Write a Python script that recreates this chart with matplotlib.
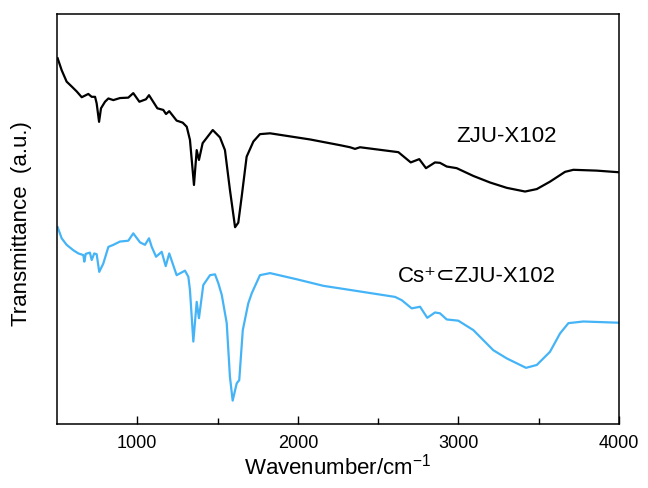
import numpy as np
import matplotlib.pyplot as plt

plt.rcParams['font.family'] = ['Liberation Sans', 'DejaVu Sans']
plt.rcParams['mathtext.fontset'] = 'custom'
plt.rcParams['mathtext.rm'] = 'Liberation Sans'
plt.rcParams['mathtext.it'] = 'Liberation Sans'

# ZJU-X102 (black), wavenumber in cm-1 and transmittance in a.u.
wn_x102 = [504, 529, 560, 592, 623, 654, 695, 716, 737, 747, 762, 774, 799, 820,
           851, 892, 944, 975, 1013, 1054, 1073, 1125, 1162, 1179, 1199, 1245,
           1283, 1308, 1328, 1353, 1370, 1384, 1407, 1470, 1515, 1546, 1577, 1609,
           1629, 1650, 1681, 1723, 1764, 1827, 2076, 2263, 2325, 2356, 2387, 2626,
           2703, 2756, 2798, 2854, 2885, 2927, 2989, 3093, 3197, 3301, 3415, 3488,
           3570, 3664, 3716, 3861, 4000]
t_x102 = [89.2, 86.3, 83.5, 82.3, 81.1, 79.7, 80.5, 79.8, 79.8, 78.2, 73.7, 77.0,
          78.6, 79.4, 79.0, 79.5, 79.6, 80.7, 78.6, 79.2, 80.2, 77.0, 76.6, 75.6,
          76.3, 74.0, 73.5, 72.5, 69.3, 58.3, 66.8, 64.4, 68.5, 71.7, 69.9, 66.8,
          57.1, 48.0, 49.1, 55.4, 65.2, 68.9, 70.7, 70.9, 69.4, 68.0, 67.5, 67.1,
          67.5, 66.3, 63.8, 64.6, 62.4, 63.8, 63.7, 62.8, 62.4, 60.5, 58.9, 57.6,
          56.7, 57.3, 59.1, 61.5, 62.0, 61.8, 61.4]

# Cs+ loaded sample (blue)
wn_cs = [504, 529, 560, 601, 633, 664, 670, 679, 705, 716, 732, 747, 763, 788,
         820, 851, 892, 944, 975, 1017, 1048, 1073, 1090, 1117, 1152, 1177, 1199,
         1245, 1297, 1318, 1328, 1349, 1370, 1384, 1411, 1453, 1484, 1505, 1526,
         1557, 1577, 1594, 1619, 1635, 1657, 1691, 1713, 1764, 1827, 1993, 2159,
         2325, 2605, 2647, 2709, 2761, 2806, 2854, 2885, 2927, 2999, 3093, 3217,
         3301, 3421, 3488, 3570, 3633, 3685, 3778, 4000]
t_cs = [48.0, 45.3, 43.7, 42.4, 41.6, 41.2, 39.6, 41.5, 41.8, 40.0, 41.6, 41.4,
        37.1, 39.1, 43.2, 43.7, 44.5, 44.7, 46.5, 44.3, 43.7, 45.3, 43.2, 40.8,
        42.0, 38.5, 41.6, 36.3, 37.4, 35.9, 32.7, 20.1, 29.8, 25.8, 33.9, 36.3,
        36.5, 34.3, 31.5, 24.6, 11.5, 5.7, 9.9, 10.7, 22.9, 29.4, 31.9, 36.3,
        36.8, 35.3, 33.7, 32.7, 31.0, 30.2, 28.2, 28.6, 25.9, 27.2, 27.0, 25.5,
        25.2, 22.9, 18.0, 16.0, 13.7, 14.4, 17.6, 22.1, 24.6, 25.0, 24.7]

fig = plt.figure(figsize=(6.48, 4.88), dpi=100)
ax = fig.add_axes([57 / 648, 64 / 488, 562 / 648, 410 / 488])

ax.plot(wn_x102, t_x102, color='black', lw=1.6)
ax.plot(wn_cs, t_cs, color='#45b4f7', lw=1.6)

ax.text(3300, 70, 'ZJU-X102', fontsize=16, ha='center', va='center')
ax.text(3115, 36, 'Cs\u207a\u2282ZJU-X102', fontsize=16,
        ha='center', va='center')

ax.set_xlim(500, 4000)
ax.set_ylim(0, 100)
ax.set_xticks([1000, 2000, 3000, 4000])
ax.set_xticks([1500, 2500, 3500], minor=True)
ax.set_yticks([])
ax.tick_params(axis='x', which='major', direction='in', length=6, width=1,
               labelsize=13, pad=8)
ax.tick_params(axis='x', which='minor', direction='in', length=4, width=1)
for s in ax.spines.values():
    s.set_linewidth(1.1)

ax.set_xlabel(r'Wavenumber/cm$^{-1}$', fontsize=16, labelpad=1)
ax.set_ylabel('Transmittance  (a.u.)', fontsize=16)
ax.yaxis.set_label_coords(-0.045, 0.49)

fig.savefig('out.png', dpi=100)
